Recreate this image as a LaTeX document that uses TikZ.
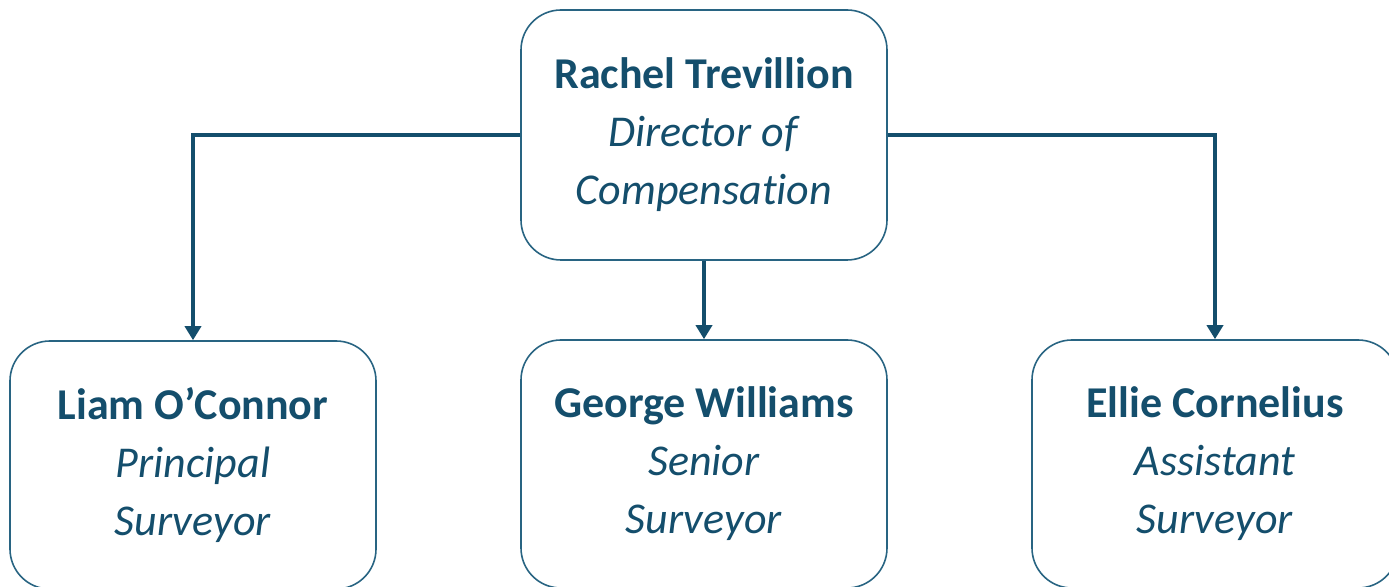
\documentclass[tikz,border=0pt]{standalone}
\usepackage{fontspec}
\setmainfont{Carlito}[Ligatures=NoCommon]
\usepackage{xcolor}
\usetikzlibrary{positioning,calc,arrows.meta}

\definecolor{orgblue}{RGB}{20,78,108}
\definecolor{orgline}{RGB}{40,100,130}

\tikzset{
	person/.style={draw=orgline, line width=0.8pt, rounded corners=20pt,
		minimum width=183pt, minimum height=124pt, text width=175pt,
		align=flush center, text=orgblue, font=\fontsize{22}{29}\selectfont},
	link/.style={draw=orgblue, line width=2pt, -{Triangle[width=8pt,length=7pt]}}
}

\begin{document}
\begin{tikzpicture}[x=0.5pt, y=-0.5pt]
			\useasboundingbox (0,0) rectangle (1389,587);
			% head of the team
			\node [person, minimum height=125pt] (head) at (704,135)
				{\textbf{Rachel Trevillion}\\\textit{Director of}\\\textit{Compensation}};
			% surveyors
			\node [person] (liam) at (193,465)
				{\textbf{Liam O’Connor}\\\textit{Principal}\\\textit{Surveyor}};
			\node [person] (george) at (704,464)
				{\textbf{George Williams}\\\textit{Senior}\\\textit{Surveyor}};
			\node [person] (ellie) at (1215,464)
				{\textbf{Ellie Cornelius}\\\textit{Assistant}\\\textit{Surveyor}};
			% reporting lines
			\draw [link] (head.west) -| (liam.north);
			\draw [link] (head.south) -- (george.north);
			\draw [link] (head.east) -| (ellie.north);
		\end{tikzpicture}
\end{document}
